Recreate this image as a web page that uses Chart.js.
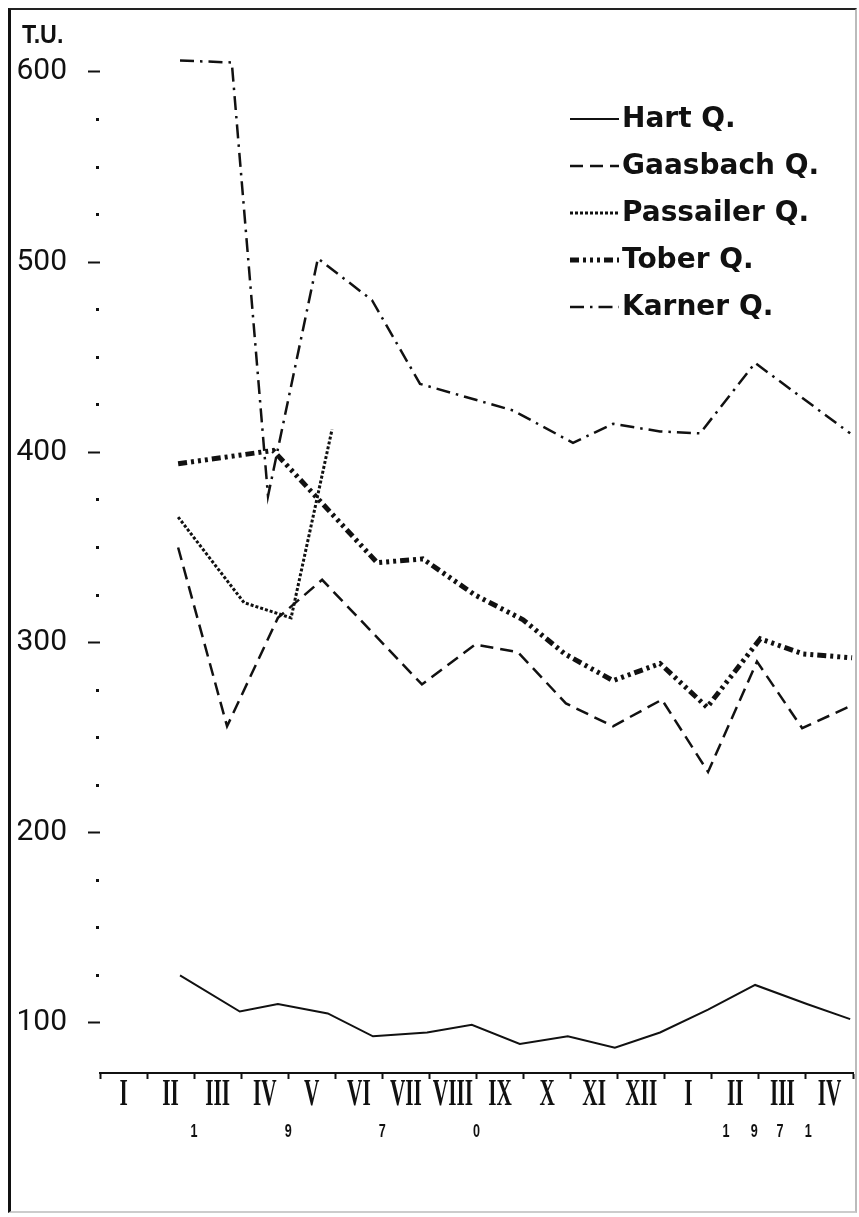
<!DOCTYPE html>
<html>
<head>
<meta charset="utf-8">
<script src="https://cdn.jsdelivr.net/npm/chart.js@4.4.0/dist/chart.umd.min.js"></script>
<style>
  html, body { margin: 0; padding: 0; background: #fff; }
  #wrap { position: relative; width: 859px; height: 1217px; }
  #frame {
    position: absolute; left: 8px; top: 8px; width: 849px; height: 1205px;
    box-sizing: border-box; pointer-events: none;
    border-left: 3px solid #111; border-top: 2px solid #222;
    border-right: 2px solid #bbb; border-bottom: 2px solid #ccc;
  }
</style>
</head>
<body>
<div id="wrap">
  <canvas id="chart" width="859" height="1217"></canvas>
  <div id="frame"></div>
</div>
<script>
// month axis (Jan 1970 .. Apr 1971), one slot per month
const months = ['I', 'II', 'III', 'IV', 'V', 'VI', 'VII', 'VIII', 'IX', 'X', 'XI', 'XII', 'I', 'II', 'III', 'IV'];
const yearDigits = ['1', '9', '7', '0', '1', '9', '7', '1'];
const yearPos = [2, 4, 6, 8, 13.3, 13.9, 14.45, 15.05];

// sampling dates in month units (0 = start of Jan 1970), T.U. values
const hartX = [1.70, 2.97, 3.78, 4.84, 5.80, 6.95, 7.90, 8.92, 9.94, 10.94, 11.90, 12.92, 13.92, 15.02, 15.94];
const hartY = [125, 106, 110, 105, 93, 95, 99, 89, 93, 87, 95, 107, 120, 110, 102];

const gaasX = [1.66, 2.70, 3.78, 4.72, 6.84, 7.97, 8.88, 9.90, 10.90, 11.94, 12.92, 13.96, 14.92, 15.89];
const gaasY = [350, 256, 313, 333, 278, 299, 295, 268, 256, 270, 232, 290, 255, 266];

const passX = [1.66, 3.06, 4.06, 4.93];
const passY = [366, 321, 313, 412];

const toberX = [1.66, 3.68, 5.89, 6.86, 7.97, 8.99, 9.88, 10.90, 11.90, 12.90, 14.03, 14.94, 15.98];
const toberY = [394, 401, 342, 344, 325, 312, 294, 280, 289, 266, 302, 294, 292];

const karnerX = [1.70, 2.80, 3.57, 4.63, 5.78, 6.80, 8.78, 10.05, 10.90, 11.90, 12.75, 13.92, 15.94];
const karnerY = [606, 605, 377, 502, 480, 436, 422, 405, 415, 411, 410, 447, 410];

const INK = '#111';
const pts = (xs, ys) => xs.map((x, i) => ({ x, y: ys[i] }));

const series = [
  { label: 'Hart Q.', data: pts(hartX, hartY), borderWidth: 2, borderDash: [] },
  { label: 'Gaasbach Q.', data: pts(gaasX, gaasY), borderWidth: 2.5, borderDash: [13, 7] },
  { label: 'Passailer Q.', data: pts(passX, passY), borderWidth: 3, borderDash: [3, 2] },
  { label: 'Tober Q.', data: pts(toberX, toberY), borderWidth: 5, borderDash: [9, 4, 3, 4, 3, 4, 3, 4] },
  { label: 'Karner Q.', data: pts(karnerX, karnerY), borderWidth: 2.5, borderDash: [14, 6, 2.5, 6] },
];

// labels, legend and year digits drawn onto the canvas
const decor = {
  id: 'decor',
  afterDraw(chart) {
    const ctx = chart.ctx;
    const xm = chart.scales.xm;
    const xs = chart.scales.x;
    ctx.save();
    ctx.fillStyle = INK;

    // T.U.
    ctx.font = 'bold 25px "Liberation Sans", Arial, sans-serif';
    ctx.textAlign = 'left';
    ctx.textBaseline = 'alphabetic';
    ctx.save();
    ctx.translate(22, 43);
    ctx.scale(0.93, 1);
    ctx.fillText('T.U.', 0, 0);
    ctx.restore();

    // roman month labels, condensed serif
    ctx.textAlign = 'center';
    ctx.textBaseline = 'middle';
    ctx.font = 'bold 38px "Liberation Serif", serif';
    months.forEach((m, i) => {
      ctx.save();
      ctx.translate(xm.getPixelForTick(i), 1095);
      ctx.scale(0.56, 1);
      ctx.fillText(m, 0, 0);
      ctx.restore();
    });

    // year digits
    ctx.font = 'bold 18px "Liberation Sans", Arial, sans-serif';
    yearDigits.forEach((d, i) => {
      ctx.save();
      ctx.translate(xs.getPixelForValue(yearPos[i]), 1132);
      ctx.scale(0.7, 1);
      ctx.fillText(d, 0, 0);
      ctx.restore();
    });

    // legend
    ctx.textAlign = 'left';
    ctx.font = 'bold 28px "DejaVu Sans", sans-serif';
    chart.data.datasets.forEach((ds, i) => {
      const y = 119 + i * 47;
      ctx.save();
      ctx.strokeStyle = INK;
      ctx.lineWidth = ds.borderWidth;
      ctx.setLineDash(ds.borderDash);
      ctx.beginPath();
      ctx.moveTo(570, y);
      ctx.lineTo(619, y);
      ctx.stroke();
      ctx.restore();
      ctx.fillText(ds.label, 622, y + 1);
    });
    ctx.restore();
  },
};

new Chart(document.getElementById('chart'), {
  type: 'line',
  data: {
    datasets: series.map((s) => ({
      ...s,
      borderColor: INK,
      backgroundColor: INK,
      pointRadius: 0,
      fill: false,
      tension: 0,
      xAxisID: 'x',
      yAxisID: 'y',
      clip: false,
    })),
  },
  options: {
    responsive: false,
    animation: false,
    devicePixelRatio: 1,
    layout: { padding: { top: 25, right: 6, left: 0, bottom: 0 } },
    plugins: { legend: { display: false }, tooltip: { enabled: false } },
    scales: {
      x: { type: 'linear', min: 0, max: 16, display: false },
      xm: {
        type: 'category',
        labels: months,
        position: 'bottom',
        offset: true,
        border: { display: true, color: INK, width: 2 },
        grid: { drawOnChartArea: false, drawTicks: true, tickLength: 6, tickWidth: 2, tickColor: INK, offset: true },
        ticks: { display: false },
        afterFit: (s) => { s.height = 144; },
      },
      y: {
        type: 'linear',
        position: 'left',
        min: 73.7,
        max: 624.7,
        border: { display: false },
        grid: {
          drawOnChartArea: false,
          drawTicks: true,
          tickLength: 12,
          tickWidth: (c) => (c.tick && c.tick.value % 100 === 0 ? 2 : 3),
          tickColor: (c) => (c.tick && (c.tick.value < 100 || c.tick.value > 600) ? 'rgba(0,0,0,0)' : INK),
          tickBorderDash: (c) => (c.tick && c.tick.value % 100 === 0 ? [] : [0, 8, 3, 20]),
        },
        ticks: {
          stepSize: 25,
          includeBounds: false,
          padding: 21,
          color: INK,
          font: { family: 'Roboto', size: 30 },
          callback: (v) => (v % 100 === 0 ? String(v) : ''),
        },
        afterFit: (s) => {
          s.width = 100;
          s.paddingTop = 0;
          s.paddingBottom = 0;
        },
      },
    },
  },
  plugins: [decor],
});
</script>
</body>
</html>
